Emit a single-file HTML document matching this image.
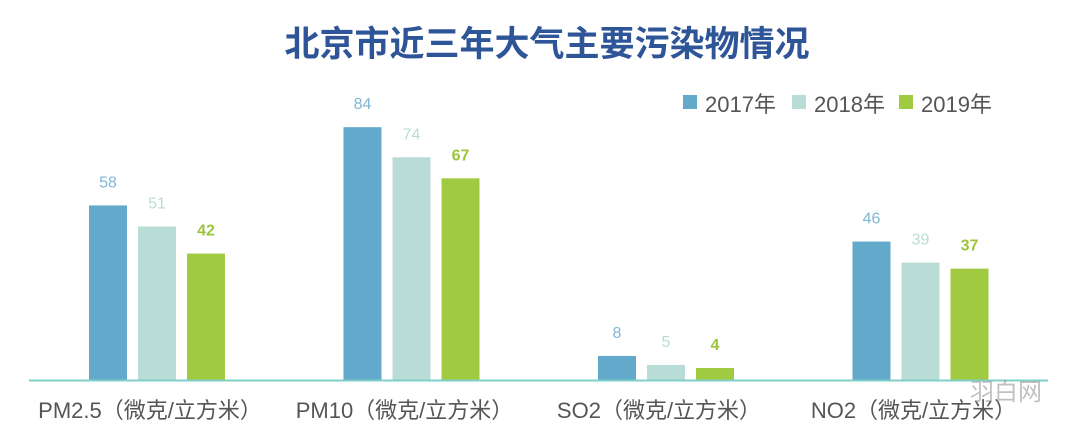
<!DOCTYPE html>
<html><head><meta charset="utf-8"><style>
html,body{margin:0;padding:0;background:#fff;}
svg{display:block;font-family:"Liberation Sans","Noto Sans CJK SC",sans-serif;}
</style></head><body>
<svg id="chart" width="1080" height="438">
<text x="547" y="56" text-anchor="middle" font-size="35" font-weight="bold" fill="#2e5597">北京市近三年大气主要污染物情况</text>
<g id="legend"></g>
<g id="bars"></g>
<line x1="29" y1="380.5" x2="1048" y2="380.5" stroke="#7fd0c8" stroke-width="2"/>
<g id="xlabels"></g>
<g opacity="0.6">
<text x="970" y="400" font-size="24" fill="#999">羽白网</text>
</g>
</svg>
<script>
const categories=["PM2.5（微克/立方米）","PM10（微克/立方米）","SO2（微克/立方米）","NO2（微克/立方米）"];
const seriesNames=["2017年","2018年","2019年"];
const s2017=[58,84,8,46];
const s2018=[51,74,5,39];
const s2019=[42,67,4,37];
const series=[s2017,s2018,s2019];
const colors=["#63a9cb","#badcd6","#a0cb40"];
const labelColors=["#7fb6d3","#b9dcd5","#9cc43a"];
const NS="http://www.w3.org/2000/svg";
const base=380, scale=3.01, groupStart=157, groupStep=254.5, barW=38, barStep=49;
function y(v){return base-v*scale;}
function gx(i){return groupStart+i*groupStep;}
const bars=document.getElementById('bars');
series.forEach((s,si)=>{
  s.forEach((v,ci)=>{
    const x=gx(ci)+(si-1)*barStep-barW/2;
    const r=document.createElementNS(NS,'rect');
    r.setAttribute('x',x);r.setAttribute('y',y(v));r.setAttribute('width',barW);r.setAttribute('height',base-y(v));
    r.setAttribute('fill',colors[si]);
    
    
    bars.appendChild(r);
    const t=document.createElementNS(NS,'text');
    t.setAttribute('x',x+barW/2);t.setAttribute('y',y(v)-18);t.setAttribute('text-anchor','middle');
    t.setAttribute('font-size','16');t.setAttribute('fill',labelColors[si]);
    if(si===2)t.setAttribute('font-weight','bold');
    t.textContent=v;
    
    
    bars.appendChild(t);
  });
});
const xl=document.getElementById('xlabels');
categories.forEach((c,ci)=>{
  const t=document.createElementNS(NS,'text');
  t.setAttribute('x',gx(ci)-7);t.setAttribute('y',418);t.setAttribute('text-anchor','middle');
  t.setAttribute('font-size','22');t.setAttribute('fill','#555');
  t.textContent=c;
  
  
  xl.appendChild(t);
});
const lg=document.getElementById('legend');
const lx=[683,792,899];
seriesNames.forEach((n,i)=>{
  const r=document.createElementNS(NS,'rect');
  r.setAttribute('x',lx[i]);r.setAttribute('y',95);r.setAttribute('width',14);r.setAttribute('height',14);r.setAttribute('fill',colors[i]);
  
  
  lg.appendChild(r);
  const t=document.createElementNS(NS,'text');
  t.setAttribute('x',lx[i]+22);t.setAttribute('y',112);t.setAttribute('font-size','22');t.setAttribute('fill','#555');
  t.textContent=n;
  
  
  lg.appendChild(t);
});
</script>
</body></html>
